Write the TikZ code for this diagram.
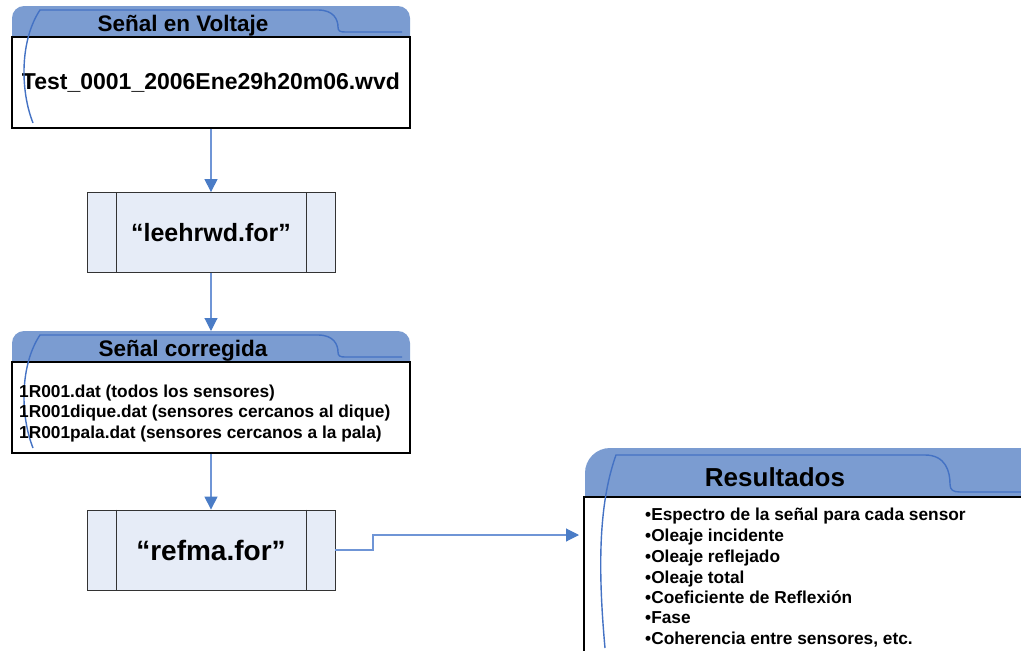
\documentclass[tikz,border=0pt]{standalone}
\usepackage{fontspec}
\setmainfont{Liberation Sans}
\usetikzlibrary{arrows.meta}
\definecolor{tabc}{HTML}{7B9CD1}
\definecolor{deco}{HTML}{4472C4}
\definecolor{arr}{HTML}{4A7CC6}
\definecolor{arrline}{HTML}{6F95D6}
\definecolor{procf}{HTML}{E6ECF7}
\tikzset{
  tabshape/.style={fill=tabc},
  decoline/.style={draw=deco, line width=1.4pt},
  bodybox/.style={draw=black, line width=1.8pt, fill=white, inner sep=0pt, minimum width=398pt, minimum height=91pt},
  procbox/.style={draw=black!80, fill=procf, line width=0.8pt, inner sep=0pt, minimum width=248pt, minimum height=80pt, font=\bfseries\fontsize{25}{30}\selectfont},
  headtext/.style={anchor=base, inner sep=0pt, font=\bfseries\fontsize{22.5}{27}\selectfont},
  linetext/.style={anchor=base west, inner sep=0pt, font=\bfseries\fontsize{17.3}{20}\selectfont},
  conn/.style={draw=arrline, line width=1.1pt, -{Triangle[width=13pt,length=13pt,color=arr,fill=arr]}}
}
\begin{document}
\begin{tikzpicture}[x=1pt,y=-1pt]
\useasboundingbox (0,0) rectangle (1021,651);
\clip (0,0) rectangle (1021,651);

% ---------- Box 1: Señal en Voltaje ----------
\fill[tabshape, rounded corners=12pt] (12,6) rectangle (410,60);
\node[bodybox, font=\bfseries\fontsize{23}{27}\selectfont] (v1) at (211,82.5) {Test\_0001\_2006Ene29h20m06.wvd};
\draw[decoline] (33,123) .. controls (20,90) and (20,40) .. (40,10) -- (318,10)
  .. controls (334,10) and (338,20) .. (338,27) .. controls (338,31) and (340,32) .. (345,32) -- (402,32);
\node[headtext] (v1h) at (183,31) {Señal en Voltaje};

% ---------- Process 1 ----------
\node[procbox] (p1) at (211,232.5) {“leehrwd.for”};
\draw[black!80, line width=0.8pt] ([xshift=30pt]p1.north west) -- ([xshift=30pt]p1.south west);
\draw[black!80, line width=0.8pt] ([xshift=-29pt]p1.north east) -- ([xshift=-29pt]p1.south east);

% ---------- Box 2: Señal corregida ----------
\fill[tabshape, rounded corners=12pt] (12,331) rectangle (410,385);
\coordinate (v2top) at (211,331);
\node[bodybox] (v2) at (211,407.5) {};
\draw[decoline] (33,448) .. controls (20,415) and (20,365) .. (40,335) -- (318,335)
  .. controls (334,335) and (338,345) .. (338,352) .. controls (338,356) and (340,357) .. (345,357) -- (402,357);
\node[headtext] (v2h) at (183,356) {Señal corregida};
\node[linetext] (l1) at (19,397) {1R001.dat (todos los sensores)};
\node[linetext] (l2) at (19,417.5) {1R001dique.dat (sensores cercanos al dique)};
\node[linetext] (l3) at (19,438) {1R001pala.dat (sensores cercanos a la pala)};

% ---------- Process 2 ----------
\node[procbox, font=\bfseries\fontsize{28}{33}\selectfont] (p2) at (211,550) {“refma.for”};
\draw[black!80, line width=0.8pt] ([xshift=30pt]p2.north west) -- ([xshift=30pt]p2.south west);
\draw[black!80, line width=0.8pt] ([xshift=-29pt]p2.north east) -- ([xshift=-29pt]p2.south east);

% ---------- Resultados ----------
\fill[tabshape, rounded corners=25pt] (585,448) rectangle (1100,540);
\node[draw=black, line width=1.8pt, fill=white, inner sep=0pt, minimum width=520pt, minimum height=260pt] (res) at (844,627) {};
\draw[decoline] (605,648) .. controls (597,560) and (600,500) .. (616,455) -- (925,455)
  .. controls (946,455) and (950,472) .. (950,484) .. controls (950,490) and (953,492) .. (960,492) -- (1030,492);
\node[headtext, font=\bfseries\fontsize{26}{30}\selectfont] (resh) at (775,486) {Resultados};
\node[linetext] (r1) at (645,520) {\textbullet Espectro de la señal para cada sensor};
\node[linetext] (r2) at (645,541) {\textbullet Oleaje incidente};
\node[linetext] (r3) at (645,562) {\textbullet Oleaje reflejado};
\node[linetext] (r4) at (645,583) {\textbullet Oleaje total};
\node[linetext] (r5) at (645,603) {\textbullet Coeficiente de Reflexión};
\node[linetext] (r6) at (645,623) {\textbullet Fase};
\node[linetext] (r7) at (645,644) {\textbullet Coherencia entre sensores, etc.};

% ---------- Connectors ----------
\coordinate (bend) at (373,535);
\coordinate (rin) at (579,535);
\draw[conn] (v1.south) -- (p1.north);
\draw[conn] (p1.south) -- (v2top);
\draw[conn] (v2.south) -- (p2.north);
\draw[conn] (p2.east) -| (bend) -- (rin);
\end{tikzpicture}
\end{document}
